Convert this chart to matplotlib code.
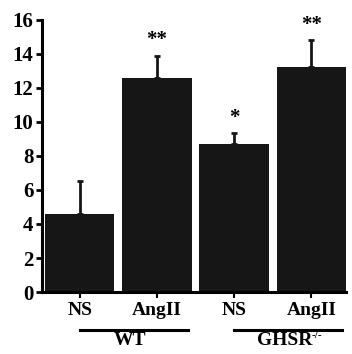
import matplotlib
matplotlib.use("Agg")
import matplotlib.pyplot as plt

categories = ["NS", "AngII", "NS", "AngII"]
values = [4.6, 12.6, 8.7, 13.2]
errors = [1.9, 1.3, 0.65, 1.6]
stars = ["", "**", "*", "**"]
groups = ["WT", "GHSR"]
group_sup = ["", "-/-"]
yticks = [0, 2, 4, 6, 8, 10, 12, 14, 16]

plt.rcParams['font.family'] = ['Liberation Serif', 'DejaVu Serif']
fig = plt.figure(figsize=(3.52, 3.54), dpi=100)
ax = fig.add_axes([0.119, 0.175, 0.864, 0.769])
x = list(range(len(values)))
ax.bar(x, values, width=0.9, color='#161616', zorder=2)
ax.errorbar(x, values, yerr=[[0]*len(errors), errors], fmt='none',
            ecolor='#161616', elinewidth=2, capsize=2.5, capthick=2, zorder=1)
for xi, v, e, s in zip(x, values, errors, stars):
    if s:
        ax.text(xi, v + e + 0.3, s, ha='center', va='bottom',
                fontsize=15, fontweight='bold')
ax.set_ylim(0, 16)
ax.set_xlim(-0.49, 3.45)
ax.set_yticks(yticks)
ax.set_yticklabels([str(t) for t in yticks], fontsize=15, fontweight='bold')
ax.set_xticks(x)
ax.set_xticklabels(categories, fontsize=14, fontweight='bold')
ax.tick_params(axis='y', direction='out', length=4, width=2, pad=2)
ax.tick_params(axis='x', direction='out', length=4, width=1.5, pad=3)
for sp in ['top', 'right']:
    ax.spines[sp].set_visible(False)
for sp in ['left', 'bottom']:
    ax.spines[sp].set_linewidth(2.2)

trans = ax.get_xaxis_transform()
fig.canvas.draw()
renderer = fig.canvas.get_renderer()
for gi, g in enumerate(groups):
    x0, x1 = 2*gi, 2*gi + 1.4
    ax.plot([x0, x1], [-0.138, -0.138], transform=trans, color='black',
            lw=2.2, clip_on=False)
    t = ax.text((x0 + x1)/2 - 0.05, -0.145, g, transform=trans, ha='center',
                va='top', fontsize=14, fontweight='bold')
    if group_sup[gi]:
        bb = t.get_window_extent(renderer)
        fig.text(bb.x1 / fig.bbox.width, (bb.y1 + 1) / fig.bbox.height,
                 group_sup[gi], ha='left', va='top', fontsize=8,
                 fontweight='bold')

fig.savefig("out.png", dpi=100)
